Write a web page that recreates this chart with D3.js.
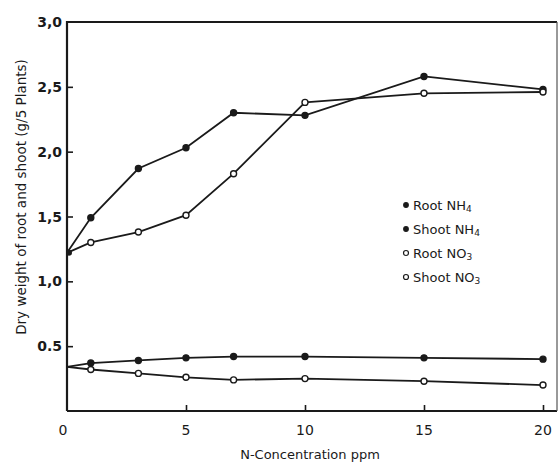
<!DOCTYPE html>
<html><head><meta charset="utf-8">
<script src="https://cdn.jsdelivr.net/npm/d3@7"></script>
<style>body{margin:0;background:#fff}svg{display:block}</style>
</head><body>
<script>
const conc = [0, 1, 3, 5, 7, 10, 15, 20];
const shootNH4 = [1.22, 1.49, 1.87, 2.03, 2.30, 2.28, 2.58, 2.48];
const shootNO3 = [1.22, 1.30, 1.38, 1.51, 1.83, 2.38, 2.45, 2.46];
const rootNH4 = [0.34, 0.37, 0.39, 0.41, 0.42, 0.42, 0.41, 0.40];
const rootNO3 = [0.34, 0.32, 0.29, 0.26, 0.24, 0.25, 0.23, 0.20];
const yTickVals = [0.5, 1.0, 1.5, 2.0, 2.5, 3.0];
const yTickLabels = ["0.5", "1,0", "1,5", "2,0", "2,5", "3,0"];
const xTickVals = [0, 5, 10, 15, 20];
const legendItems = [
  {name: "Root NH", sub: "4", filled: true},
  {name: "Shoot NH", sub: "4", filled: true},
  {name: "Root NO", sub: "3", filled: false},
  {name: "Shoot NO", sub: "3", filled: false}
];

const W = 560, H = 464;
const svg = d3.select("body").append("svg").attr("width", W).attr("height", H);
const x = d3.scaleLinear().domain([0, 20]).range([67, 543]);
const y = d3.scaleLinear().domain([0, 3]).range([411, 22]);
const xRight = 557;
const font = "'DejaVu Sans', sans-serif";
const ink = "#1a1a1a";

// frame
svg.append("path")
  .attr("d", `M${x(0)},${y(0)}V${y(3)}H${xRight}`)
  .attr("fill", "none").attr("stroke", ink).attr("stroke-width", 2.2);
svg.append("line").attr("x1", x(0)).attr("x2", xRight).attr("y1", y(0)).attr("y2", y(0))
  .attr("stroke", ink).attr("stroke-width", 2);
svg.append("line").attr("x1", xRight).attr("x2", xRight).attr("y1", y(3)).attr("y2", y(0))
  .attr("stroke", "#555").attr("stroke-width", 1.2);

// y ticks (inside)
const yAxis = d3.axisRight(y).tickValues(yTickVals.slice(0, 5)).tickSize(6).tickFormat("");
svg.append("g").attr("transform", `translate(${x(0)},0)`).call(yAxis)
  .call(g => g.select(".domain").remove())
  .call(g => g.selectAll("line").attr("stroke", ink).attr("stroke-width", 1.6));
svg.append("g").selectAll("text").data(yTickVals).join("text")
  .attr("x", 62).attr("y", d => y(d) + 5)
  .attr("text-anchor", "end").attr("font-family", font).attr("font-size", 14)
  .attr("font-weight", "bold").attr("fill", ink)
  .text((d, i) => yTickLabels[i]);

// x ticks (inside)
const xAxis = d3.axisTop(x).tickValues(xTickVals.slice(1)).tickSize(6).tickFormat("");
svg.append("g").attr("transform", `translate(0,${y(0)})`).call(xAxis)
  .call(g => g.select(".domain").remove())
  .call(g => g.selectAll("line").attr("stroke", ink).attr("stroke-width", 1.6));
svg.append("g").selectAll("text").data(xTickVals).join("text")
  .attr("x", d => d === 0 ? x(d) - 4 : x(d)).attr("y", 435)
  .attr("text-anchor", "middle").attr("font-family", font).attr("font-size", 14)
  .attr("fill", ink).text(d => d);

// axis titles
svg.append("text").attr("x", 310).attr("y", 459).attr("text-anchor", "middle")
  .attr("font-family", font).attr("font-size", 13).attr("fill", ink)
  .text("N-Concentration ppm");
svg.append("text").attr("transform", "translate(26,197) rotate(-90)")
  .attr("text-anchor", "middle").attr("font-family", font).attr("font-size", 13.5)
  .attr("fill", ink).text("Dry weight of root and shoot (g/5 Plants)");

// series
const line = d3.line().x((d, i) => x(conc[i])).y(d => y(d));
const series = [
  {vals: shootNH4, filled: true},
  {vals: shootNO3, filled: false},
  {vals: rootNH4, filled: true},
  {vals: rootNO3, filled: false}
];
series.forEach(s => {
  svg.append("path").datum(s.vals).attr("d", line)
    .attr("fill", "none").attr("stroke", ink).attr("stroke-width", 1.8);
});
series.forEach(s => {
  svg.append("g").selectAll("circle").data(s.vals.slice(1)).join("circle")
    .attr("cx", (d, i) => x(conc[i + 1])).attr("cy", d => y(d)).attr("r", 3)
    .attr("fill", s.filled ? ink : "#fff").attr("stroke", ink).attr("stroke-width", 1.4);
});
// shared start point
svg.append("circle").attr("cx", x(0) + 2).attr("cy", y(shootNH4[0])).attr("r", 3)
  .attr("fill", ink);

// legend
const lg = svg.append("g");
legendItems.forEach((it, i) => {
  const ly = 205 + i * 24;
  lg.append("circle").attr("cx", 406).attr("cy", ly).attr("r", it.filled ? 2.3 : 2.5)
    .attr("fill", it.filled ? ink : "#fff").attr("stroke", ink).attr("stroke-width", 1.2);
  const t = lg.append("text").attr("x", 413).attr("y", ly + 5)
    .attr("font-family", font).attr("font-size", 13).attr("fill", ink);
  t.append("tspan").text(it.name);
  t.append("tspan").attr("font-size", 9).attr("dy", 2).text(it.sub);
});
</script>
</body></html>
